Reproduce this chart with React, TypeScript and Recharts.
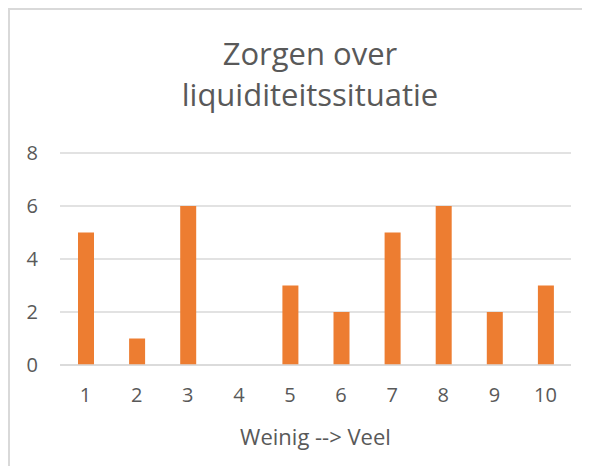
import React from "react";
import { BarChart, Bar, XAxis, YAxis, CartesianGrid } from "recharts";

// scores 1 (weinig) .. 10 (veel), number of answers per score
const categories = ["1", "2", "3", "4", "5", "6", "7", "8", "9", "10"];
const counts = [5, 1, 6, 0, 3, 2, 5, 6, 2, 3];
const yTicks = [0, 2, 4, 6, 8];

const TEXT = "#595959";
const GRID = "#d9d9d9";
const FONT = "'Open Sans', sans-serif";

const data = categories.map((c, i) => ({ score: c, aantal: counts[i] }));

export default function App() {
  return (
    <div style={{ position: "relative", width: 582, height: 458, fontFamily: FONT }}>
      <div style={{ position: "absolute", left: 0, top: 0, width: 582, height: 466, borderTop: `2px solid ${GRID}`, borderLeft: `2px solid ${GRID}`, boxSizing: "border-box" }} />
      <div style={{ position: "absolute", left: 20, width: 564, top: 25, textAlign: "center", color: TEXT, fontSize: 31, lineHeight: "41px" }}>
        Zorgen over<br />liquiditeitssituatie
      </div>
      <BarChart width={582} height={458} data={data}
        margin={{ top: 145, right: 19, bottom: 71, left: 12 }}>
        <CartesianGrid vertical={false} stroke={GRID} strokeWidth={1.5} />
        <XAxis dataKey="score" tickLine={false} tickSize={0} tickMargin={23}
          axisLine={{ stroke: GRID, strokeWidth: 1.5 }}
          tick={{ fontSize: 20, fill: TEXT, fontFamily: FONT }} />
        <YAxis domain={[0, 8]} ticks={yTicks} width={40} axisLine={false} tickLine={false}
          tickSize={0} tickMargin={22} tick={{ fontSize: 20, fill: TEXT, fontFamily: FONT }} />
        <Bar dataKey="aantal" fill="#ED7D31" barSize={16} isAnimationActive={false} />
      </BarChart>
      <div style={{ position: "absolute", left: 33, width: 549, top: 413, textAlign: "center", color: TEXT, fontSize: 22 }}>
        Weinig --&gt; Veel
      </div>
    </div>
  );
}
